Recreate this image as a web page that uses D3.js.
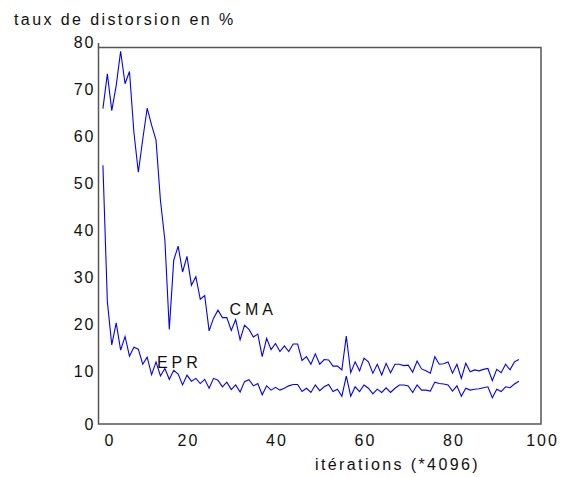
<!DOCTYPE html>
<html>
<head>
<meta charset="utf-8">
<script src="https://cdn.jsdelivr.net/npm/d3@7"></script>
<style>
  body { margin: 0; background: #fff; }
  text { font-family: "Liberation Sans", Arial, sans-serif; fill: #111; }
</style>
</head>
<body>
<div id="chart"></div>
<script>
// values, iterations 1..95
var cma = [67.0, 74.4, 66.6, 71.9, 79.2, 72.3, 74.9, 62.0, 53.5, 60.5,
    67.1, 63.5, 60.3, 47.5, 39.1, 20.1, 34.8, 37.8, 32.3, 35.6,
    29.5, 31.3, 26.5, 27.3, 19.8, 22.5, 24.2, 22.6, 22.6, 19.9,
    22.2, 17.9, 21.0, 20.1, 18.5, 19.1, 14.3, 18.2, 15.8, 17.1,
    15.4, 16.6, 15.4, 17.0, 17.0, 13.5, 14.3, 12.7, 14.9, 12.7,
    13.7, 13.6, 12.3, 12.3, 11.5, 18.7, 10.9, 13.2, 11.3, 14.0,
    13.2, 10.8, 12.7, 10.4, 12.9, 10.9, 12.7, 12.7, 12.4, 12.5,
    11.0, 13.4, 11.7, 11.3, 10.8, 14.3, 12.7, 12.8, 13.2, 10.8,
    12.7, 9.7, 12.9, 11.1, 11.5, 11.3, 11.6, 11.8, 9.2, 11.6,
    10.9, 12.7, 11.5, 13.2, 13.7];
var epr = [55.0, 26.0, 16.8, 21.5, 15.7, 18.6, 14.4, 16.3, 15.9, 12.7,
    14.2, 10.5, 13.2, 10.2, 11.8, 9.5, 11.4, 10.6, 8.3, 10.4,
    9.1, 9.7, 8.6, 9.5, 7.6, 9.7, 9.3, 7.9, 8.9, 7.3,
    8.3, 6.8, 9.0, 9.4, 8.1, 8.6, 6.2, 8.1, 7.2, 7.8,
    7.2, 7.6, 8.1, 8.4, 8.4, 6.9, 7.6, 6.7, 8.3, 7.1,
    7.9, 8.4, 6.9, 7.4, 5.9, 10.2, 5.9, 7.9, 6.9, 8.3,
    7.6, 6.4, 7.4, 6.7, 7.7, 6.7, 7.6, 8.3, 8.3, 8.1,
    6.7, 8.3, 7.2, 7.2, 7.0, 8.9, 8.6, 8.5, 8.3, 7.0,
    8.1, 5.9, 7.6, 7.2, 7.4, 7.5, 7.7, 7.9, 5.6, 7.4,
    6.9, 7.9, 7.7, 8.5, 9.1];
var xTicks = [0, 20, 40, 60, 80, 100];
var yTicks = [0, 10, 20, 30, 40, 50, 60, 70, 80];
var seriesLabels = [
    {name: 'CMA', x: 29.6, y: 23.2},
    {name: 'EPR', x: 13.2, y: 11.9}
];

var width = 570, height = 477;
// plot box (window.top is reserved, hence the names)
var boxL = 98.5, boxR = 541, boxT = 47.5, boxB = 424;

var svg = d3.select('#chart').append('svg')
        .attr('width', width)
        .attr('height', height);

var x = d3.scaleLinear().domain([0, 100]).range([boxL, boxR]);
var y = d3.scaleLinear().domain([0, 80]).range([boxB, boxT]);

// frame (no tick marks in the original)
svg.append('rect')
        .attr('x', boxL).attr('y', boxT)
        .attr('width', boxR - boxL).attr('height', boxB - boxT)
        .attr('fill', 'none')
        .attr('stroke', '#555')
        .attr('stroke-width', 1.5);
svg.append('line')
        .attr('x1', boxL).attr('x2', boxL)
        .attr('y1', boxT - 4.5).attr('y2', boxT)
        .attr('stroke', '#555').attr('stroke-width', 1.5);

// axes, only the labels are kept
var gx = svg.append('g')
        .attr('transform', 'translate(0,' + boxB + ')')
        .call(d3.axisBottom(x).tickValues(xTicks).tickSize(0).tickPadding(11));
gx.select('.domain').remove();
gx.selectAll('text')
        .style('font-size', '16px')
        .style('letter-spacing', '2px')
        .attr('dx', (d) => d === 0 ? 11 : 1);

var gy = svg.append('g')
        .attr('transform', 'translate(' + boxL + ',0)')
        .call(d3.axisLeft(y).tickValues(yTicks).tickSize(0).tickPadding(3));
gy.select('.domain').remove();
gy.selectAll('text')
        .style('font-size', '16px')
        .style('letter-spacing', '2px')
        .attr('dy', (d) => d === 0 ? '0.32em' : '0em');

// curves
var line = d3.line()
        .x((d, i) => x(i + 1))
        .y((d) => y(d));

[cma, epr].forEach(function(s) {
    svg.append('path')
            .datum(s)
            .attr('d', line)
            .attr('fill', 'none')
            .attr('stroke', '#0000ff')
            .attr('stroke-width', 1.1);
});

svg.selectAll('.lab')
        .data(seriesLabels)
        .enter()
        .append('text')
        .attr('x', (d) => x(d.x))
        .attr('y', (d) => y(d.y))
        .style('font-size', '16px')
        .style('letter-spacing', '4px')
        .text((d) => d.name);

// axis titles
svg.append('text')
        .attr('x', 14).attr('y', 25)
        .style('font-size', '16px')
        .style('letter-spacing', '2.4px')
        .text('taux de distorsion en %');
svg.append('text')
        .attr('x', 315).attr('y', 470)
        .style('font-size', '16px')
        .style('letter-spacing', '2.4px')
        .text('itérations (*4096)');
</script>
</body>
</html>
